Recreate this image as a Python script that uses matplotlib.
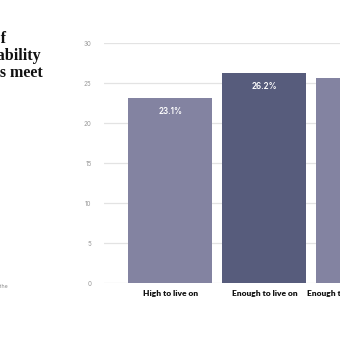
import matplotlib.pyplot as plt

# chart data (cropped view of a wider chart)
categories = ["High to live on", "Enough to live on", "Enough to live comfortably"]
values = [23.1, 26.2, 25.6]
bar_colors = ["#8383a1", "#575c7c", "#8383a1"]
y_ticks = [0, 5, 10, 15, 20, 25, 30]
title_lines = ["Perceptions of", "affordability", "as needs meet"]

W = 340.0
UNIT = 94.0  # pixels per category
x_lo, x_hi = -0.707, 2.6

fig = plt.figure(figsize=(3.4, 3.4), dpi=100)

# axes placed in pixel terms, running past the right edge like the crop
ax = fig.add_axes([104 / W, (W - 283) / W, UNIT * (x_hi - x_lo) / W, 240 / W])
x = list(range(len(categories)))
bars = ax.bar(x, values, width=84 / UNIT, color=bar_colors, zorder=2)

ax.set_yticks(y_ticks)
ax.set_yticklabels([str(t) for t in y_ticks], fontsize=4.5, color="#9a9a9a",
                   family="Inter")
ax.tick_params(axis="y", length=0, pad=9)
ax.set_xticks(x)
ax.set_xticklabels(categories, fontsize=6, fontweight="heavy", color="#111111",
                   family="Lato")
ax.tick_params(axis="x", length=0, pad=5)
ax.set_xlim(x_lo, x_hi)
ax.set_ylim(0, 30)

ax.grid(axis="y", color="#e3e3e3", linewidth=0.9, zorder=0)
for s in ax.spines.values():
    s.set_visible(False)

for b, v in zip(bars, values):
    ax.annotate(f"{v:.1f}%", (b.get_x() + b.get_width() / 2, v),
                xytext=(0, -9.5), textcoords="offset points",
                ha="center", va="center", color="white", fontsize=5.8,
                fontweight="semibold", family="Inter")

# left-hand title, cut off by the crop
title_y = [43, 60, 77]
title_x = [6, 41, 43]
for line, px, py in zip(title_lines, title_x, title_y):
    fig.text(px / W, 1 - py / W, line, ha="right", va="baseline",
             fontsize=11.5, fontweight="bold", family="Liberation Serif",
             color="#111111")

fig.text(8 / W, 1 - 287 / W, "Source: the", ha="right", va="center",
         fontsize=3.8, color="#8a8a8a", family="Inter")

fig.savefig("out.png", dpi=100, facecolor="white")
